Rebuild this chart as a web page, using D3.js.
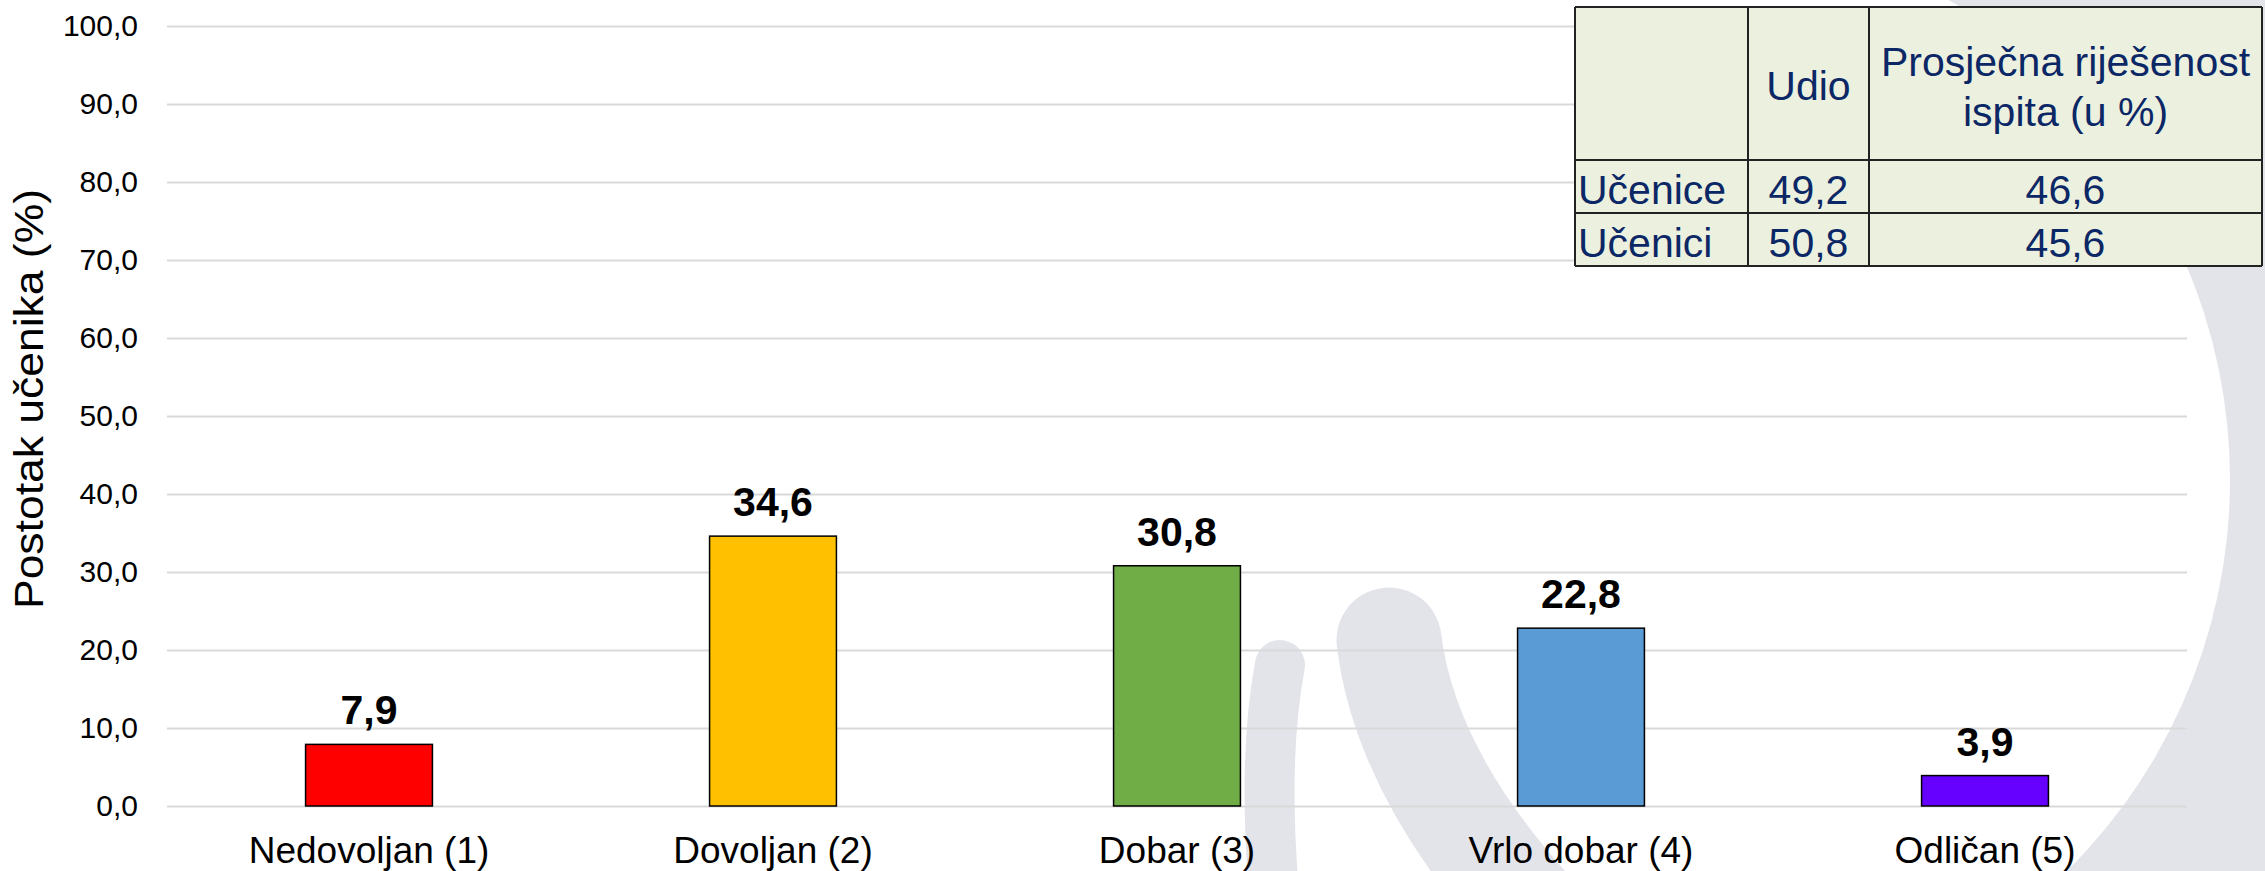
<!DOCTYPE html>
<html>
<head>
<meta charset="utf-8">
<script src="https://cdn.jsdelivr.net/npm/d3@7"></script>
<style>
  body { margin: 0; background: #fff; }
  svg { display: block; font-family: 'Liberation Sans', Arial, sans-serif; }
</style>
</head>
<body>
<div class="chart"></div>
<script>
// chart data
let categories = ['Nedovoljan (1)', 'Dovoljan (2)', 'Dobar (3)', 'Vrlo dobar (4)', 'Odličan (5)'];
let values = [7.9, 34.6, 30.8, 22.8, 3.9];
let barColors = ['#ff0000', '#ffc000', '#70ad47', '#5b9bd5', '#6600ff'];
let yTicks = [0, 10, 20, 30, 40, 50, 60, 70, 80, 90, 100];
let yLabel = 'Postotak učenika (%)';

// table data
let tableHeader = ['', 'Udio', ['Prosječna riješenost', 'ispita (u %)']];
let rowLabels = ['Učenice', 'Učenici'];
let udio = [49.2, 50.8];
let rijesenost = [46.6, 45.6];

let width = 2265;
let height = 871;
let plotLeft = 167, plotRight = 2187, plotTop = 26, plotBottom = 806;

let locale = d3.formatLocale({decimal: ',', thousands: '.', grouping: [3], currency: ['', '']});
let fmt = locale.format('.1f');

let svg = d3.select('.chart')
            .append('svg')
            .attr('width', width)
            .attr('height', height);

// watermark in the background
let wm = svg.append('g').attr('fill', '#e3e4ea').attr('stroke', '#e3e4ea');
wm.append('path')
  .attr('transform', 'translate(1680,480)')
  .attr('stroke', 'none')
  .attr('d', d3.arc()({innerRadius: 550, outerRadius: 790, startAngle: -0.2, endAngle: Math.PI}));
wm.append('path')
  .attr('fill', 'none')
  .attr('stroke-width', 105)
  .attr('stroke-linecap', 'round')
  .attr('d', 'M1389,640 Q1405,770 1525,905');
wm.append('path')
  .attr('fill', 'none')
  .attr('stroke-width', 50)
  .attr('stroke-linecap', 'round')
  .attr('d', 'M1280,665 Q1262,760 1275,905');

let x = d3.scaleBand()
          .domain(categories)
          .range([plotLeft, plotRight])
          .paddingInner(0.686)
          .paddingOuter(0.343);
let y = d3.scaleLinear().domain([0, 100]).range([plotBottom, plotTop]);

// gridlines + tick labels
let yAxis = d3.axisLeft(y)
              .tickValues(yTicks)
              .tickSize(-(plotRight - plotLeft))
              .tickPadding(29)
              .tickFormat(fmt);
let gy = svg.append('g')
            .attr('transform', 'translate(' + plotLeft + ',0)')
            .call(yAxis);
gy.select('.domain').remove();
gy.selectAll('.tick line').attr('stroke', '#d9d9d9').attr('stroke-width', 2);
gy.selectAll('.tick text').attr('font-size', 30).attr('fill', '#000');
gy.attr('font-family', null).attr('font-size', null);

let xAxis = d3.axisBottom(x).tickSize(0).tickPadding(31);
let gx = svg.append('g')
            .attr('transform', 'translate(0,' + plotBottom + ')')
            .call(xAxis);
gx.select('.domain').remove();
gx.selectAll('.tick text').attr('font-size', 37).attr('fill', '#000');
gx.attr('font-family', null).attr('font-size', null);

svg.append('text')
   .attr('transform', 'translate(43,399) rotate(-90)')
   .attr('text-anchor', 'middle')
   .attr('font-size', 40)
   .attr('textLength', 420)
   .attr('lengthAdjust', 'spacingAndGlyphs')
   .text(yLabel);

// bars
svg.selectAll('rect.bar')
   .data(values)
   .enter()
   .append('rect')
   .attr('class', 'bar')
   .attr('x', (d, i) => x(categories[i]))
   .attr('y', d => y(d))
   .attr('width', x.bandwidth())
   .attr('height', d => y(0) - y(d))
   .attr('fill', (d, i) => barColors[i])
   .attr('stroke', '#000')
   .attr('stroke-width', 1.5);

svg.selectAll('text.val')
   .data(values)
   .enter()
   .append('text')
   .attr('class', 'val')
   .attr('x', (d, i) => x(categories[i]) + x.bandwidth() / 2)
   .attr('y', d => y(d) - 20)
   .attr('text-anchor', 'middle')
   .attr('font-size', 41)
   .attr('font-weight', 'bold')
   .text(d => fmt(d));

// table (top right)
let colX = [1575, 1748, 1869, 2262];
let rowY = [7, 160, 213, 266];
let tColor = '#0b2766';
let tbl = svg.append('g');
tbl.append('rect')
   .attr('x', colX[0]).attr('y', rowY[0])
   .attr('width', colX[3] - colX[0]).attr('height', rowY[3] - rowY[0])
   .attr('fill', '#ebf1de');
colX.forEach(cx => {
  tbl.append('line').attr('x1', cx).attr('x2', cx).attr('y1', rowY[0]).attr('y2', rowY[3])
     .attr('stroke', '#222').attr('stroke-width', 2);
});
rowY.forEach(ry => {
  tbl.append('line').attr('x1', colX[0]).attr('x2', colX[3]).attr('y1', ry).attr('y2', ry)
     .attr('stroke', '#222').attr('stroke-width', 2);
});
let tt = tbl.append('g').attr('fill', tColor).attr('font-size', 41);
tt.append('text')
  .attr('x', (colX[1] + colX[2]) / 2).attr('y', 100)
  .attr('text-anchor', 'middle')
  .text(tableHeader[1]);
tableHeader[2].forEach((line, i) => {
  tt.append('text')
    .attr('x', (colX[2] + colX[3]) / 2).attr('y', 76 + i * 50)
    .attr('text-anchor', 'middle')
    .text(line);
});
let baseY = [204, 257];
rowLabels.forEach((lab, i) => {
  tt.append('text').attr('x', colX[0] + 3).attr('y', baseY[i]).text(lab);
  tt.append('text').attr('x', (colX[1] + colX[2]) / 2).attr('y', baseY[i])
    .attr('text-anchor', 'middle').text(fmt(udio[i]));
  tt.append('text').attr('x', (colX[2] + colX[3]) / 2).attr('y', baseY[i])
    .attr('text-anchor', 'middle').text(fmt(rijesenost[i]));
});
</script>
</body>
</html>
